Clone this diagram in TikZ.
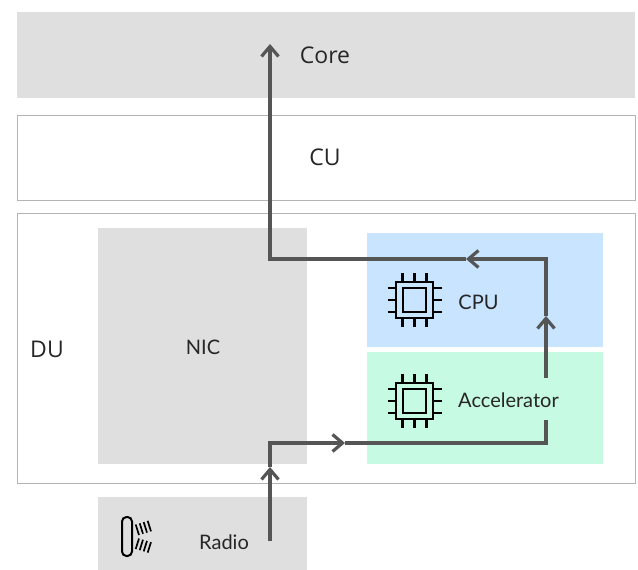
\documentclass[tikz,border=0pt]{standalone}
\usepackage{fontspec}
\setmainfont{Open Sans}
\newfontfamily\hilda{Lato}
\usetikzlibrary{arrows.meta}
\definecolor{boxgrey}{HTML}{DFDFDF}
\definecolor{edgegrey}{HTML}{B4B4B4}
\definecolor{flowgrey}{HTML}{555555}
\definecolor{cpublue}{HTML}{C8E4FF}
\definecolor{accgreen}{HTML}{C6FAE2}
\definecolor{txt}{HTML}{262626}
\tikzset{
  x=1pt,y=-1pt,
  region/.style={anchor=north west,inner sep=0pt,outer sep=0pt,minimum width=#1},
  filled/.style={fill=boxgrey},
  outlined/.style={draw=edgegrey,line width=1pt,fill=white},
  lab/.style={text=txt,font=\fontsize{23}{26}\selectfont,inner sep=0pt},
  lab2/.style={text=txt,font=\hilda\fontsize{20}{24}\selectfont,inner sep=0pt},
  flow/.style={draw=flowgrey,line width=3.5pt,line join=miter},
  flowtip/.style={flow,-{Straight Barb[length=10pt,width=17pt,line width=3.2pt]}},
  chip/.pic={
    \draw[black,line width=2.2pt] (-18.5,-18) rectangle (18.5,18);
    \draw[black,line width=2.8pt] (-11.5,-12) rectangle (11.5,12);
    \foreach \d in {-12,0,12}{
      \draw[black,line width=2.2pt] (\d,-27) -- (\d,-18) (\d,18) -- (\d,27)
        (-27,\d) -- (-18.5,\d) (18.5,\d) -- (27,\d);
    }
  },
}
\begin{document}
\begin{tikzpicture}
\useasboundingbox[fill=white] (0,0) rectangle (638,570);
\node[region=618pt,filled,minimum height=86pt] (core) at (17,12) {};
\node[region=618pt,outlined,minimum height=85pt] (cu) at (17,115) {};
\node[region=618pt,outlined,minimum height=270.5pt] (du) at (17,213) {};
\node[region=209pt,filled,minimum height=236pt] (nic) at (98,228) {};
\node[region=236pt,fill=cpublue,minimum height=114pt] (cpu) at (367,233) {};
\node[region=236pt,fill=accgreen,minimum height=112pt] (acc) at (367,352) {};
\node[region=209pt,filled,minimum height=73pt] (radio) at (98,497) {};

\node[lab] (corel) at (325,55) {Core};
\node[lab] (cul) at (325,157) {CU};
\node[lab] (dul) at (47,349) {DU};
\node[lab2] (nicl) at (203,347) {NIC};
\node[lab2] (cpul) at (478.5,302) {CPU};
\node[lab2] (accl) at (508.5,400) {Accelerator};
\node[lab2] (radiol) at (224,542) {Radio};

\pic at (414.5,300) {chip};
\pic at (414.5,401) {chip};

\draw[black,line width=2pt,rounded corners=4.5pt] (122,517) rectangle (132,556);
\foreach \a/\b in {0/0,4/1.2,8/2.4,12/3.6}{
  \draw[black,line width=1.7pt] (135.7+\a,524.5-\b) -- (139+\a,535-\b);
  \draw[black,line width=1.7pt] (135.7+\a,549+\b) -- (139+\a,538.5+\b);
}

\coordinate (start) at (270,541);
\coordinate (t1) at (270,467);
\coordinate (c1) at (270,443);
\coordinate (t2) at (345,443);
\coordinate (c2) at (546,443);
\coordinate (e2) at (546,420);
\coordinate (s3) at (546,378);
\coordinate (t3) at (546,316);
\coordinate (c3) at (546,259);
\coordinate (t4) at (466,259);
\coordinate (c4) at (270,259);
\coordinate (t5) at (270,44);

\draw[flowtip] (start) -- (t1);
\draw[flowtip] (t1) -- (c1) -- (t2);
\draw[flow] (t2) -- (c2) -- (e2);
\draw[flowtip] (s3) -- (t3);
\draw[flowtip] (t3) -- (c3) -- (t4);
\draw[flowtip] (t4) -- (c4) -- (t5);
\end{tikzpicture}
\end{document}
